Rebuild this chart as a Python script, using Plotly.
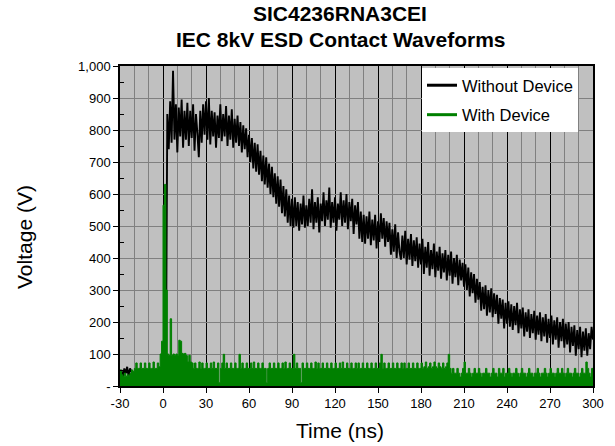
import plotly.graph_objects as go

# Sampling: 1 ns per sample, starting at -30 ns
t_start = -30
t_step = 1

# Without Device (V), t = -30 .. 300 ns
without_device = [
    35, 50, 25, 55, 40, 60, 30, 55, 45, 35,
    30, 20, 35, 15, 40, 25, 20, 35, 15, 30,
    25, 35, 20, 40, 15, 30, 25, 20, 35, 30,
    30, 5, 20, 850, 740, 890, 760, 985, 770, 880,
    730, 870, 780, 895, 745, 860, 770, 885, 750, 860,
    775, 880, 735, 850, 790, 715, 860, 760, 880, 785,
    890, 770, 900, 755, 860, 780, 855, 745, 845, 775,
    880, 765, 850, 780, 875, 750, 845, 770, 865, 745,
    835, 760, 845, 750, 825, 730, 815, 740, 805, 715,
    785, 700, 775, 680, 760, 670, 755, 660, 735, 640,
    720, 630, 715, 620, 695, 600, 685, 590, 665, 570,
    655, 560, 645, 540, 625, 530, 615, 510, 595, 500,
    585, 495, 590, 500, 575, 485, 570, 505, 595, 495,
    565, 500, 585, 510, 615, 490, 575, 510, 590, 480,
    570, 515, 605, 500, 580, 520, 620, 495, 575, 510,
    590, 485, 570, 520, 605, 500, 580, 510, 600, 490,
    575, 515, 585, 475, 565, 505, 575, 460, 545, 450,
    535, 445, 530, 460, 545, 440, 520, 455, 535, 430,
    515, 450, 540, 460, 525, 435, 515, 450, 510, 410,
    490, 420, 505, 400, 480, 420, 395, 470, 400, 485,
    380, 460, 395, 475, 375, 455, 390, 465, 370, 445,
    380, 460, 350, 435, 370, 450, 345, 425, 365, 445,
    340, 420, 360, 435, 335, 415, 355, 425, 330, 410,
    345, 420, 320, 400, 340, 410, 315, 395, 330, 385,
    310, 380, 300, 370, 280, 355, 290, 350, 260, 335,
    270, 325, 235, 310, 240, 315, 220, 300, 230, 305,
    215, 290, 225, 285, 195, 275, 210, 270, 180, 260,
    195, 265, 185, 255, 175, 250, 190, 260, 165, 240,
    180, 245, 155, 230, 170, 240, 150, 225, 165, 235,
    145, 220, 160, 230, 140, 215, 155, 225, 135, 210,
    150, 220, 130, 205, 145, 215, 120, 200, 140, 210,
    120, 195, 130, 200, 105, 185, 125, 190, 95, 175,
    115, 185, 90, 170, 110, 180, 95, 165, 115, 185,
    145,
]

# With Device (V), t = -30 .. 300 ns
with_device = [
    50, 35, 30, 40, 30, 35, 30, 40, 50, 45,
    55, 72, 55, 55, 72, 55, 55, 72, 55, 55,
    72, 55, 55, 75, 55, 55, 72, 60, 100, 140,
    565, 630, 300, 100, 95, 210, 95, 100, 95, 100,
    95, 143, 140, 102, 100, 102, 95, 75, 96, 75,
    72, 55, 72, 55, 55, 75, 55, 72, 55, 55,
    72, 55, 55, 72, 55, 75, 55, 55, 72, 10,
    55, 72, 99, 55, 72, 55, 55, 72, 55, 55,
    72, 55, 55, 99, 55, 72, 55, 55, 72, 55,
    55, 72, 55, 75, 55, 55, 72, 55, 55, 72,
    55, 55, 10, 55, 72, 55, 55, 72, 55, 55,
    72, 55, 55, 72, 55, 75, 55, 55, 72, 55,
    55, 99, 55, 72, 55, 55, 10, 72, 55, 55,
    72, 55, 55, 72, 55, 55, 75, 55, 72, 55,
    55, 72, 55, 55, 72, 55, 55, 72, 55, 55,
    72, 55, 55, 72, 55, 75, 55, 55, 72, 55,
    55, 72, 55, 55, 72, 55, 72, 55, 55, 72,
    55, 55, 72, 55, 55, 72, 55, 55, 72, 55,
    55, 72, 99, 55, 72, 55, 55, 72, 55, 55,
    72, 55, 55, 72, 55, 55, 72, 55, 72, 55,
    55, 72, 55, 55, 72, 55, 55, 72, 55, 55,
    72, 55, 60, 75, 55, 60, 72, 55, 60, 75,
    60, 55, 72, 60, 55, 72, 55, 60, 72, 99,
    55, 40, 55, 40, 40, 55, 40, 28, 40, 55,
    75, 40, 40, 55, 40, 28, 40, 55, 40, 40,
    55, 40, 28, 40, 40, 55, 40, 40, 28, 40,
    55, 40, 40, 28, 55, 40, 40, 55, 28, 40,
    40, 55, 40, 28, 40, 40, 55, 40, 28, 40,
    55, 40, 40, 28, 40, 55, 40, 40, 28, 40,
    40, 55, 40, 28, 40, 40, 55, 40, 28, 40,
    55, 40, 40, 28, 40, 55, 40, 40, 55, 40,
    28, 40, 55, 40, 40, 28, 40, 55, 40, 40,
    28, 40, 55, 40, 40, 75, 55, 40, 28, 55,
    40,
]

x_tickvals = [-30, 0, 30, 60, 90, 120, 150, 180, 210, 240, 270, 300]
x_ticktext = ["-30", "0", "30", "60", "90", "120", "150", "180", "210", "240", "270", "300"]
x_minorvals = [v for v in range(-20, 300, 10) if v % 30 != 0]
y_tickvals = [0, 100, 200, 300, 400, 500, 600, 700, 800, 900, 1000]
y_ticktext = ["-", "100", "200", "300", "400", "500", "600", "700", "800", "900", "1,000"]
y_minorvals = [50, 150, 250, 350, 450, 550, 650, 750, 850, 950]

title_lines = ["SIC4236RNA3CEI", "IEC 8kV ESD Contact Waveforms"]

FONT = "Liberation Sans, Arial, sans-serif"
BLACK_C = "#000000"
GREEN_C = "#008000"

# pixel helpers for placing text relative to plot area (l=120, r=593, t=66, b=386)
PL, PR, PT, PB = 120, 593, 66, 386
def px_x(px):
    return (px - PL) / (PR - PL)
def px_y(py):
    return (PB - py) / (PB - PT)

fig = go.Figure()
fig.add_trace(go.Scatter(
    x0=t_start, dx=t_step, y=without_device, mode="lines",
    line=dict(color=BLACK_C, width=1.9, simplify=False),
    showlegend=False, hoverinfo="skip",
))
fig.add_trace(go.Scatter(
    x0=t_start, dx=t_step, y=with_device, mode="lines",
    line=dict(color=GREEN_C, width=1, shape="hv", simplify=False),
    fill="tozeroy", fillcolor=GREEN_C, showlegend=False, hoverinfo="skip",
))
# legend entries (line samples)
fig.add_trace(go.Scatter(x=[None], y=[None], mode="lines", name="Without Device",
                         line=dict(color=BLACK_C, width=3), legendgroup="a"))
fig.add_trace(go.Scatter(x=[None], y=[None], mode="lines", name="With Device",
                         line=dict(color=GREEN_C, width=3), legendgroup="b"))

fig.update_layout(
    width=615, height=446,
    margin=dict(l=PL, r=615 - PR, t=PT, b=446 - PB),
    paper_bgcolor="white", plot_bgcolor="#C0C0C0",
    font=dict(family=FONT, color="black", size=13),
    legend=dict(
        x=px_x(422), y=px_y(68), xanchor="left", yanchor="top",
        bgcolor="white", borderwidth=0,
        font=dict(family=FONT, size=16.5, color="black"),
        traceorder="grouped", tracegroupgap=5,
    ),
    xaxis=dict(
        range=[-30, 300], tickmode="array", tickvals=x_tickvals, ticktext=x_ticktext,
        ticks="outside", ticklen=5, tickcolor="black",
        showgrid=True, gridcolor="black", gridwidth=1,
        showline=True, linecolor="black", linewidth=1.5, mirror=True,
        zeroline=False,
        minor=dict(tickvals=x_minorvals, showgrid=True, gridcolor="#808080",
                   gridwidth=1, ticks=""),
        tickfont=dict(size=13),
    ),
    yaxis=dict(
        range=[0, 1000], tickmode="array", tickvals=y_tickvals, ticktext=y_ticktext,
        ticks="outside", ticklen=5, tickcolor="black",
        showgrid=True, gridcolor="#808080", gridwidth=1,
        showline=True, linecolor="black", linewidth=1.5, mirror=True,
        zeroline=False,
        minor=dict(tickvals=y_minorvals, ticks="inside", ticklen=4,
                   tickcolor="black", showgrid=False),
        tickfont=dict(size=13),
    ),
    annotations=[
        dict(text="<b>" + title_lines[0] + "</b>", xref="paper", yref="paper",
             x=px_x(340), y=px_y(14), xanchor="center", yanchor="middle",
             showarrow=False, font=dict(family=FONT, size=21, color="black")),
        dict(text="<b>" + title_lines[1] + "</b>", xref="paper", yref="paper",
             x=px_x(340), y=px_y(40), xanchor="center", yanchor="middle",
             showarrow=False, font=dict(family=FONT, size=21, color="black")),
        dict(text="Time (ns)", xref="paper", yref="paper",
             x=px_x(340), y=px_y(430),
             xanchor="center", yanchor="middle", showarrow=False,
             font=dict(family=FONT, size=21, color="black")),
        dict(text="Voltage (V)", xref="paper", yref="paper",
             x=px_x(24), y=px_y(237), textangle=-90,
             xanchor="center", yanchor="middle", showarrow=False,
             font=dict(family=FONT, size=21, color="black")),
    ],
)

fig.write_html("out.html", config={"displayModeBar": False},
               post_script="document.body.style.margin='0';")
